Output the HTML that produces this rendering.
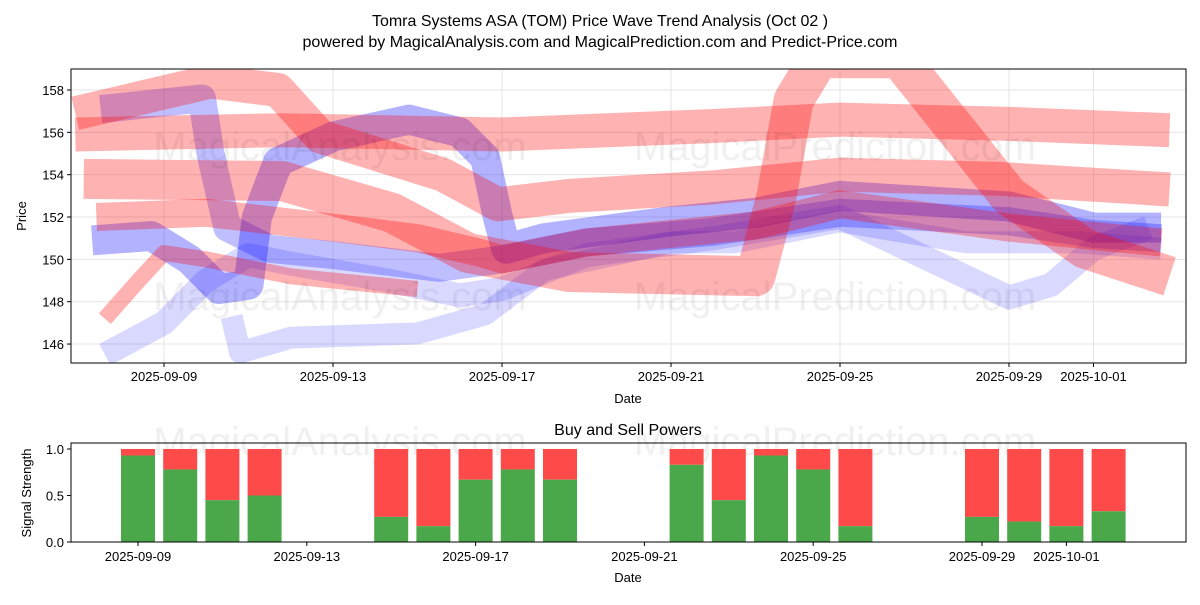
<!DOCTYPE html>
<html><head><meta charset="utf-8"><style>
body{margin:0;background:#fff;}
svg text{font-family:"Liberation Sans","DejaVu Sans",sans-serif;}
</style></head><body>
<svg id="c" width="1200" height="600" viewBox="0 0 1200 600"></svg>
<script>
const tickDays=[0,4,8,12,16,20,22];
const tickLabels=["2025-09-09","2025-09-13","2025-09-17","2025-09-21","2025-09-25","2025-09-29","2025-10-01"];
const priceTicks=[146,148,150,152,154,156,158];
const redBands=[
 [[-2.1,156.9],[1.1,158.4],[2.7,158],[3.7,155.8],[6.6,154],[7.9,152.6],[9.6,153],[13,153.4],[16,154],[19.8,153.8],[23.8,153.3]],
 [[-2.1,155.9],[2.8,156.1],[8,155.9],[13,156.3],[16,156.6],[20,156.4],[23.8,156.1]],
 [[-1.9,153.8],[2.8,153.7],[5.4,152.2],[7.2,150.3],[9.6,149.4],[14,149.2],[14.5,153],[14.9,157.5],[15.5,159.5],[17.4,159.5],[20,153],[21.8,150.5],[23.8,149.2]],
 [[-1.4,147.2],[-0.6,149],[0,150.3],[1,150],[3,149.2],[6,148.6]],
 [[-1.6,152],[1,152.2],[4,151.5],[6,151],[7.5,150.3],[8,150],[10,150.8],[14,151.6],[16,152.6],[20,151.5],[23.6,150.8]]
];
const redWidths=[34,34,40,16,28];
const blueBands=[
 [[-1.7,150.9],[-0.3,151.1],[0.6,150],[1.3,148.6],[2,148.8],[2.2,152],[2.7,154.6],[4,155.8],[5.8,156.6],[7,156],[7.6,154.8],[7.9,152],[8.1,150.5],[9,151],[12,151.8],[14,152.2],[16,153],[20,152.5],[22,151.5],[23.6,151.5]],
 [[-1.4,145.5],[0,147],[1,149],[2,150.2],[3,149.8],[5.3,149],[7,148.3],[8,148.6],[10,150.2],[13,151],[16,152],[20,148.2],[21,148.8],[22,150.5],[23.3,151.5]],
 [[1.6,147.3],[1.8,145.6],[3,146.3],[6,146.5],[7.6,147.4],[9,149.5],[12,150.8],[13.5,150.8],[16,151.8],[19,150.8],[21.7,150.8],[23.6,150.5]],
 [[-1.5,157.1],[0.9,157.6],[1.1,155],[1.5,151.5],[2.5,150.5],[4,150.2],[6.5,149.6],[8,150],[10,150.8],[13,151.3],[16,152.2],[20,151.8],[22,151.2],[23.6,151]]
];
const blueWidths=[30,24,22,28];
const blueAlphas=[0.3,0.15,0.15,0.25];
const barDays=[0,1,2,3,6,7,8,9,10,13,14,15,16,17,20,21,22,23];
const buyPower=[0.93,0.78,0.45,0.5,0.27,0.17,0.67,0.78,0.67,0.83,0.45,0.93,0.78,0.17,0.27,0.22,0.17,0.33];
const sigTicks=[0,0.5,1.0];
const sigLabels=["0.0","0.5","1.0"];

const NS="http://www.w3.org/2000/svg";
const svg=document.getElementById('c');
function el(t,a,p){const e=document.createElementNS(NS,t);for(const k in a)e.setAttribute(k,a[k]);(p||svg).appendChild(e);return e;}
const L=71,R=1186,T1=69,B1=363,T2=443,B2=542;
const xs=d=>164+d*42.25;
const xb=d=>138+d*42.2;
const yp=v=>90+(158-v)*21.17;
const ys=v=>542-v*93;

function txt(x,y,s,opts,p){const t=el('text',Object.assign({x:x,y:y,'font-size':13,fill:'#000'},opts||{}),p);t.textContent=s;return t;}

let t=txt(600,26,"Tomra Systems ASA (TOM) Price Wave Trend Analysis (Oct 02 )",{'text-anchor':'middle','font-size':16});

t=txt(600,47,"powered by MagicalAnalysis.com and MagicalPrediction.com and Predict-Price.com",{'text-anchor':'middle','font-size':16});


const clip=el('clipPath',{id:'cp1'});el('rect',{x:L,y:T1,width:R-L,height:B1-T1},clip);
const g1=el('g',{'clip-path':'url(#cp1)'});

tickDays.forEach(d=>el('line',{x1:xs(d),x2:xs(d),y1:T1,y2:B1,stroke:'#e6e6e6','stroke-width':1},g1));
priceTicks.forEach(v=>el('line',{x1:L,x2:R,y1:yp(v),y2:yp(v),stroke:'#e6e6e6','stroke-width':1},g1));
function band(pts,color,w,a,name){
 const p=el('polyline',{points:pts.map(q=>xs(q[0])+','+yp(q[1])).join(' '),fill:'none',stroke:color,'stroke-opacity':a,'stroke-width':w,'stroke-linejoin':'round','stroke-linecap':'butt'},g1);
 
}
blueBands.forEach((b,i)=>band(b,'#0000ff',blueWidths[i],blueAlphas[i],'blue-wave-band-'+(i+1)));
redBands.forEach((b,i)=>band(b,'#ff0000',redWidths[i],0.3,'red-wave-band-'+(i+1)));
[[340,160],[835,160],[340,310],[835,310]].forEach((p,i)=>{const w=txt(p[0],p[1],i%2?"MagicalPrediction.com":"MagicalAnalysis.com",{'text-anchor':'middle','font-size':40,fill:'#000','fill-opacity':0.06},g1);});
el('rect',{x:L,y:T1,width:R-L,height:B1-T1,fill:'none',stroke:'#000','stroke-width':1});
tickDays.forEach((d,i)=>{el('line',{x1:xs(d),x2:xs(d),y1:B1,y2:B1+4,stroke:'#000'});const k=txt(xs(d),B1+18,tickLabels[i],{'text-anchor':'middle'});});
priceTicks.forEach(v=>{el('line',{x1:L-4,x2:L,y1:yp(v),y2:yp(v),stroke:'#000'});const k=txt(L-7,yp(v)+5,String(v),{'text-anchor':'end'});});
t=txt(628,403,"Date",{'text-anchor':'middle'});
t=txt(26,216,"Price",{'text-anchor':'middle',transform:'rotate(-90 26 216)'});

t=txt(628,435,"Buy and Sell Powers",{'text-anchor':'middle','font-size':16});
const g2=el('g',{});
[[340,455],[835,455]].forEach((p,i)=>{const w=txt(p[0],p[1],i?"MagicalPrediction.com":"MagicalAnalysis.com",{'text-anchor':'middle','font-size':40,fill:'#000','fill-opacity':0.06},g2);});
barDays.forEach((d,i)=>{
 const cx=xb(d),w=34,b=buyPower[i];
 const s=el('rect',{x:cx-w/2,y:ys(1),width:w,height:ys(b)-ys(1),fill:'#ff4a4a'},g2);
 
 const g=el('rect',{x:cx-w/2,y:ys(b),width:w,height:ys(0)-ys(b),fill:'#4aa84a'},g2);
 
});
el('rect',{x:L,y:T2,width:R-L,height:B2-T2,fill:'none',stroke:'#000','stroke-width':1});
tickDays.forEach((d,i)=>{el('line',{x1:xb(d),x2:xb(d),y1:B2,y2:B2+4,stroke:'#000'});const k=txt(xb(d),B2+19,tickLabels[i],{'text-anchor':'middle'});});
sigTicks.forEach((v,i)=>{el('line',{x1:L-4,x2:L,y1:ys(v),y2:ys(v),stroke:'#000'});const k=txt(L-7,ys(v)+5,sigLabels[i],{'text-anchor':'end'});});
t=txt(628,582,"Date",{'text-anchor':'middle'});
t=txt(31,493,"Signal Strength",{'text-anchor':'middle',transform:'rotate(-90 31 493)'});
</script>
</body></html>
